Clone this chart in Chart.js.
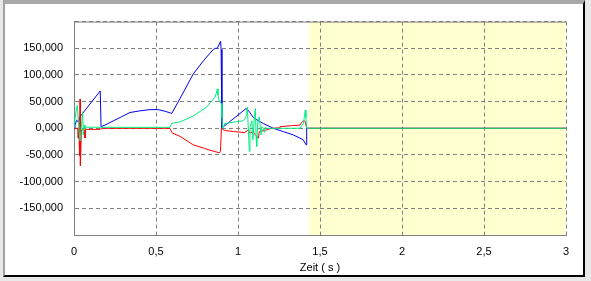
<!DOCTYPE html>
<html>
<head>
<meta charset="utf-8">
<script src="https://cdn.jsdelivr.net/npm/chart.js@4/dist/chart.umd.min.js"></script>
<style>
  html, body { margin: 0; padding: 0; background: #e8e8e8; width: 591px; height: 281px; overflow: hidden; }
  #panel {
    position: absolute; left: 3px; top: 0;
    width: 578px; height: 271px; background: #fff;
    border-left: 2px solid #a0a0a0; border-top: 4px solid #a8a8a8;
    border-right: 2px solid #000; border-bottom: 2px solid #000;
  }
  canvas { display: block; }
</style>
</head>
<body>
<div id="panel"><canvas id="c" width="578" height="271"></canvas></div>
<script>
// time (s) / value pairs
const blueT = [0, 0.006, 0.016, 0.026, 0.035, 0.045, 0.16, 0.165, 0.189, 0.24, 0.29, 0.341, 0.402, 0.463, 0.514, 0.555, 0.596,
  0.646, 0.727, 0.789, 0.85, 0.864, 0.874, 0.886, 0.894, 0.897, 0.902, 0.911, 0.982, 1.049, 1.063, 1.093, 1.124, 1.155,
  1.215, 1.276, 1.337, 1.378, 1.398, 1.415, 1.419, 3]
const blueY = [0, 6000, 15000, 12000, 21000, 25000, 70000, 3000, 6000, 14000, 21600, 29600, 32700, 35000, 35000, 32000, 27800,
  55500, 101800, 126500, 148000, 150000, 150000, 158000, 163000, 148000, 0, 3000, 20400, 37000, 33600, 20400, 14000, 9000,
  0, -6200, -12400, -18500, -21600, -31000, 0, 0]

const redT = [0, 0.025, 0.026, 0.031, 0.032, 0.036, 0.037, 0.039, 0.045, 0.066, 0.067, 0.07, 0.16, 0.165, 0.585, 0.59, 0.6,
  0.646, 0.727, 0.79, 0.829, 0.887, 0.893, 0.899, 0.906, 0.92, 0.971, 1.04, 1.063, 1.073, 1.09, 1.105, 1.124, 1.13,
  1.175, 1.205, 1.252, 1.256, 1.327, 1.378, 1.388, 1.402, 1.41, 1.419, 3]
const redY = [0, 0, -18000, -18000, -52000, -52000, 55000, -70000, -3000, -3000, -18000, -2000, -2000, 0, 0, -3000, -9000,
  -15000, -31000, -37000, -41000, -46000, -43000, 0, -2000, -4300, -6000, -8000, -3000, -9000, -6000, -12000, -18500, -6000,
  -3000, 0, 1000, 3000, 5000, 6000, 10500, 15000, 12000, 0, 0]

const greenT = [0, 0.01, 0.02, 0.03, 0.037, 0.045, 0.053, 0.057, 0.062, 0.067, 0.07, 0.16, 0.165, 0.585, 0.595, 0.646, 0.727,
  0.809, 0.86, 0.868, 0.874, 0.878, 0.885, 0.89, 0.9, 0.902, 0.906, 0.911, 0.921, 0.992, 1.032, 1.043, 1.052, 1.057,
  1.062, 1.069, 1.073, 1.085, 1.091, 1.1, 1.106, 1.11, 1.114, 1.121, 1.13, 1.14, 1.145, 1.155, 1.16, 1.166, 1.175,
  1.378, 1.398, 1.405, 1.41, 1.414, 1.419, 3]
const greenY = [0, 28000, 43000, -2000, -24000, 4000, 31000, -12400, 6000, 0, 2000, 2000, 1800, 1800, 9000, 12000, 22800,
  40000, 58600, 66000, 74000, 62000, 52000, 49000, 46000, 20000, 0, 3000, 9000, 12400, 14000, 18500, 24700, 40000,
  5000, -43000, 2000, 14000, -21600, 21600, 37000, -15400, -34000, 14000, 21600, -12400, 3000, 0, -8000, 2000, 0,
  0, 9000, 21600, 34000, 20000, 0, 0]

const shadeStart = 1.43
const xTicks = [0, 0.5, 1, 1.5, 2, 2.5, 3]
const yTickValues = [-150000, -100000, -50000, 0, 50000, 100000, 150000]
const yTickLabels = ['-150,000', '-100,000', '-50,000', '0,000', '50,000', '100,000', '150,000']

function pts(ts, ys) {
  return ts.map((t, i) => ({ x: t, y: ys[i] }))
}

function series(label, ts, ys, color) {
  return {
    label,
    data: pts(ts, ys),
    borderColor: color,
    borderWidth: 1,
    pointRadius: 0,
    tension: 0,
    fill: false,
  }
}

// yellow band behind the grid + solid plot frame
const frame = {
  id: 'frame',
  beforeDraw(chart) {
    const { ctx, chartArea: a, scales } = chart
    const x0 = Math.round(scales.x.getPixelForValue(shadeStart))
    ctx.save()
    ctx.fillStyle = '#ffffd0'
    ctx.fillRect(x0, a.top, a.right - x0, a.bottom - a.top)
    ctx.restore()
  },
  beforeDatasetsDraw(chart) {
    const { ctx, chartArea: a } = chart
    ctx.save()
    ctx.strokeStyle = '#808080'
    ctx.lineWidth = 1
    ctx.beginPath()
    ctx.moveTo(a.left + 0.5, a.bottom)
    ctx.lineTo(a.left + 0.5, a.top + 0.5)
    ctx.lineTo(a.right, a.top + 0.5)
    ctx.stroke()
    ctx.restore()
  },
}

const font = { family: '"Liberation Sans", Arial, sans-serif', size: 11 }

new Chart(document.getElementById('c'), {
  type: 'line',
  data: {
    datasets: [
      series('grün', greenT, greenY, '#00ee80'),
      series('rot', redT, redY, '#ff0000'),
      series('blau', blueT, blueY, '#0000f0'),
    ],
  },
  options: {
    responsive: false,
    animation: false,
    layout: { padding: { left: 0, top: 12, right: 17, bottom: 0 } },
    plugins: { legend: { display: false }, tooltip: { enabled: false } },
    scales: {
      x: {
        type: 'linear',
        min: 0,
        max: 3,
        afterBuildTicks: s => { s.ticks = xTicks.map(v => ({ value: v })) },
        afterFit: s => { s.height = 40 },
        ticks: {
          color: '#000', font, padding: 10, maxRotation: 0,
          callback: v => String(v).replace('.', ','),
        },
        grid: { color: '#808080', lineWidth: 1, drawTicks: false },
        border: { display: true, color: '#808080', dash: [4, 3] },
        title: { display: true, text: 'Zeit ( s )', color: '#000', font, padding: { top: 0, bottom: 0 } },
      },
      y: {
        min: -200000,
        max: 200000,
        afterBuildTicks: s => {
          s.ticks = [-200000].concat(yTickValues, [200000]).map(v => ({ value: v }))
        },
        afterFit: s => { s.width = 69 },
        ticks: {
          color: '#000', font, padding: 11,
          callback: v => {
            const i = yTickValues.indexOf(v)
            return i < 0 ? '' : yTickLabels[i]
          },
        },
        grid: { color: '#808080', lineWidth: 1, drawTicks: false },
        border: { display: true, color: '#808080', dash: [4, 3] },
      },
    },
  },
  plugins: [frame],
})
</script>
</body>
</html>
